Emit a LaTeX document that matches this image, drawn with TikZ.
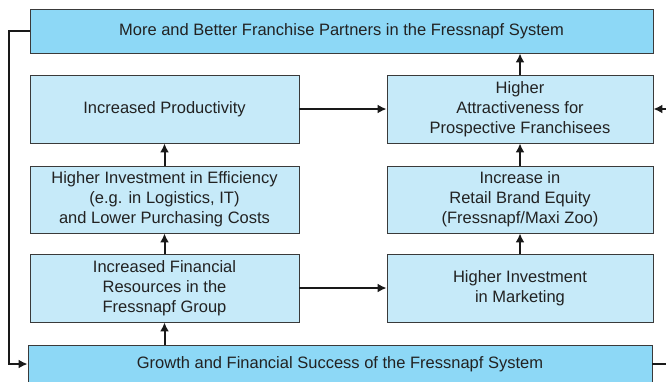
\documentclass[tikz,border=0pt]{standalone}
\usepackage{fontspec}
\setmainfont{Liberation Sans}
\usetikzlibrary{arrows.meta}

\definecolor{sysblue}{HTML}{8DD8F6}
\definecolor{boxblue}{HTML}{C6EAF9}
\definecolor{edgegray}{HTML}{3A3A3A}
\definecolor{txtgray}{HTML}{222222}

\begin{document}
\begin{tikzpicture}[x=1pt,y=-1pt,thick,
    every node/.style={font=\fontsize{16.5}{20}\selectfont,text=txtgray,align=center,inner sep=0pt},
    sysbox/.style={draw=edgegray,line width=0.9pt,fill=sysblue,minimum width=623pt,minimum height=44pt},
    stepbox/.style={draw=edgegray,line width=0.9pt,fill=boxblue,minimum height=68pt},
    leftbox/.style={stepbox,minimum width=269pt},
    rightbox/.style={stepbox,minimum width=266pt},
    link/.style={line width=2pt,draw=black!90,-{Latex[length=9pt,width=9pt]}}]
			\useasboundingbox (0,0) rectangle (666,381);
			\node[sysbox] (partners)at(341.5,31) {More and Better Franchise Partners in the Fressnapf System};
			\node[leftbox] (prod)at(164.5,109) {Increased Productivity};
			\node[rightbox] (attract)at(520,109) {Higher\\Attractiveness for\\Prospective Franchisees};
			\node[leftbox,minimum height=67pt] (eff)at(164.5,199.5) {Higher Investment in Efficiency\\(e.g. in Logistics, IT)\\and Lower Purchasing Costs};
			\node[rightbox,minimum height=67pt] (brand)at(520,199.5) {Increase in\\Retail Brand Equity\\(Fressnapf/Maxi Zoo)};
			\node[leftbox] (fin)at(164.5,288) {Increased Financial\\Resources in the\\Fressnapf Group};
			\node[rightbox] (mkt)at(520,288) {Higher Investment\\in Marketing};
			\node[sysbox,minimum width=624pt,minimum height=38pt] (growth)at(340,364) {Growth and Financial Success of the Fressnapf System};
			\draw[link] (eff) -- (prod);
			\draw[link] (fin) -- (eff);
			\draw[link] (fin.south |- growth.north) -- (fin);
			\draw[link] (mkt) -- (brand);
			\draw[link] (brand) -- (attract);
			\draw[link] (attract) -- (attract.north |- partners.south);
			\draw[link] (prod) -- (attract);
			\draw[link] (fin) -- (mkt);
			\draw[link] (partners.west) -- ++(-21,0) |- (growth.west);
			\draw[link] (growth.east) -- ++(17,0) |- (attract.east);
		\end{tikzpicture}
\end{document}
